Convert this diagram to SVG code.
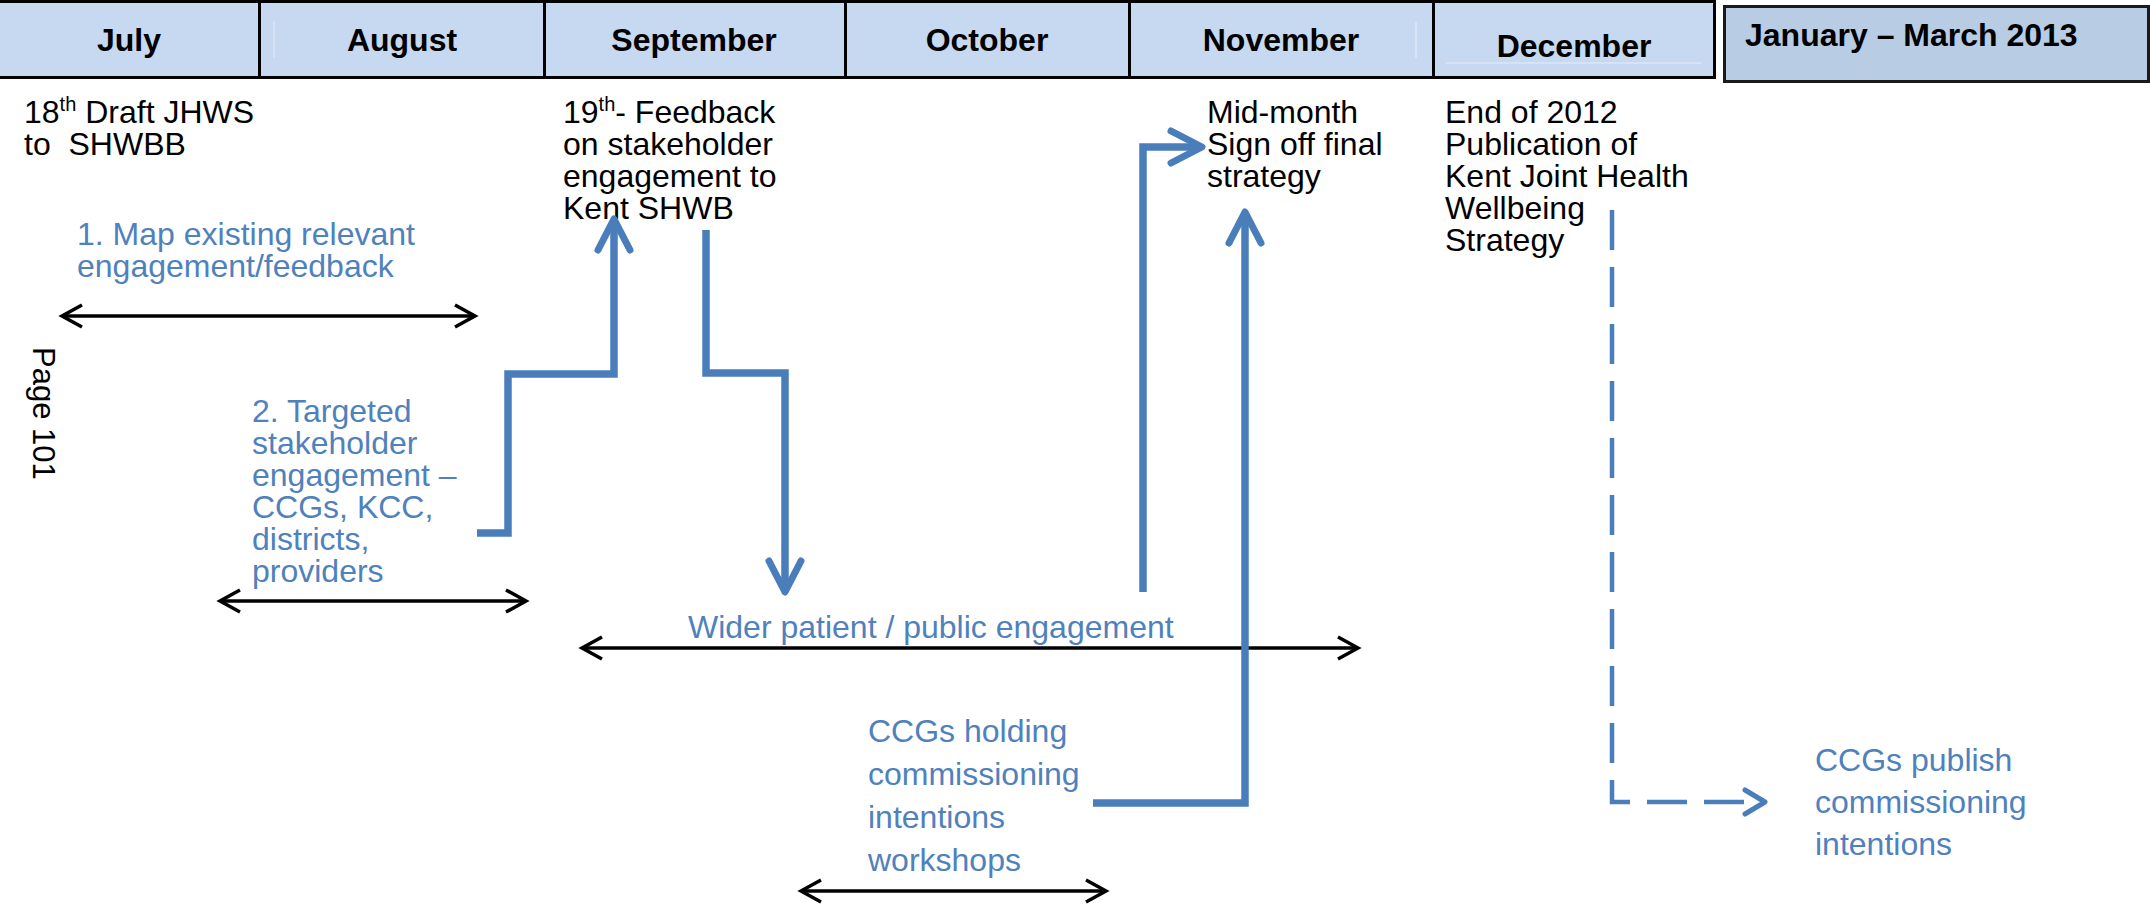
<svg xmlns="http://www.w3.org/2000/svg" width="2150" height="907" viewBox="0 0 2150 907">
  <style>
    .hdr { font-family: "Liberation Sans", Arial, sans-serif; font-weight: bold; font-size: 32px; fill: #000; }
    .txt { font-family: "Liberation Sans", Arial, sans-serif; font-size: 32px; fill: #000; }
    .blue { font-family: "Liberation Sans", Arial, sans-serif; font-size: 32px; fill: #4f81bd; }
    .grid { stroke: #000; stroke-width: 3; fill: none; }
    .faint { stroke: #dce6f4; stroke-width: 1.5; fill: none; }
    .span { stroke: #000; stroke-width: 3.5; fill: none; marker-start: url(#blk); marker-end: url(#blk); }
    .flow { stroke: #4a7ebb; stroke-width: 7.5; fill: none; stroke-linejoin: miter; marker-end: url(#bl); }
    .dash { stroke: #4a7ebb; stroke-width: 4.5; fill: none; stroke-dasharray: 40 17; marker-end: url(#bld); }
  </style>
  <defs>
    <marker id="blk" markerUnits="userSpaceOnUse" viewBox="-30 -20 40 40" markerWidth="40" markerHeight="40" refX="0" refY="0" orient="auto-start-reverse" overflow="visible">
      <path d="M-20,-11 L0,0 L-20,11" fill="none" stroke="#000" stroke-width="3.5" stroke-linecap="butt" stroke-linejoin="miter"/>
    </marker>
    <marker id="bl" markerUnits="userSpaceOnUse" viewBox="-40 -25 50 50" markerWidth="50" markerHeight="50" refX="0" refY="0" orient="auto" overflow="visible">
      <path d="M-31,-16 L0,0 L-31,16" fill="none" stroke="#4a7ebb" stroke-width="7" stroke-linecap="round" stroke-linejoin="round"/>
    </marker>
    <marker id="bld" markerUnits="userSpaceOnUse" viewBox="-30 -20 40 40" markerWidth="40" markerHeight="40" refX="0" refY="0" orient="auto" overflow="visible">
      <path d="M-20,-12 L0,0 L-20,12" fill="none" stroke="#4a7ebb" stroke-width="5" stroke-dasharray="none" stroke-linecap="round" stroke-linejoin="round"/>
    </marker>
  </defs>

  <rect width="2150" height="907" fill="#fff"/>

  <g id="header">
    <rect x="0" y="0" width="1714" height="78" fill="#c6d9f1"/>
    <line class="faint" x1="274" y1="21" x2="274" y2="58"/>
    <line class="faint" x1="1416" y1="22" x2="1416" y2="58"/>
    <line class="faint" x1="1446" y1="63" x2="1701" y2="63"/>
    <line class="grid" x1="0" y1="1.5" x2="1716" y2="1.5"/>
    <line class="grid" x1="0" y1="77.5" x2="1716" y2="77.5"/>
    <line class="grid" x1="259.5" y1="0" x2="259.5" y2="78"/>
    <line class="grid" x1="544.5" y1="0" x2="544.5" y2="78"/>
    <line class="grid" x1="845.5" y1="0" x2="845.5" y2="78"/>
    <line class="grid" x1="1129.5" y1="0" x2="1129.5" y2="78"/>
    <line class="grid" x1="1433.5" y1="0" x2="1433.5" y2="78"/>
    <line class="grid" x1="1714.5" y1="0" x2="1714.5" y2="79"/>
    <text class="hdr" x="129" y="51" text-anchor="middle">July</text>
    <text class="hdr" x="402" y="51" text-anchor="middle">August</text>
    <text class="hdr" x="694" y="51" text-anchor="middle">September</text>
    <text class="hdr" x="987" y="51" text-anchor="middle">October</text>
    <text class="hdr" x="1281" y="51" text-anchor="middle">November</text>
    <text class="hdr" x="1574" y="57" text-anchor="middle">December</text>
  </g>

  <g id="jan-mar">
    <rect x="1724.5" y="6.5" width="424" height="75" fill="#b8cce4" stroke="#1a1a1a" stroke-width="3"/>
    <text class="hdr" x="1745" y="46">January – March 2013</text>
  </g>

  <g id="page-number">
    <text class="txt" font-size="31" transform="translate(33,347) rotate(90)" style="font-size:31px">Page 101</text>
  </g>

  <g id="draft-jhws">
    <text class="txt" x="24" y="123">18<tspan font-size="20" style="font-size:20px" dy="-12">th</tspan><tspan dy="12"> Draft JHWS</tspan></text>
    <text class="txt" x="24" y="155">to&#160; SHWBB</text>
  </g>

  <g id="feedback">
    <text class="txt" x="563" y="123">19<tspan style="font-size:20px" dy="-12">th</tspan><tspan dy="12">- Feedback</tspan></text>
    <text class="txt" x="563" y="155">on stakeholder</text>
    <text class="txt" x="563" y="187">engagement to</text>
    <text class="txt" x="563" y="219">Kent SHWB</text>
  </g>

  <g id="sign-off">
    <text class="txt" x="1207" y="123">Mid-month</text>
    <text class="txt" x="1207" y="155">Sign off final</text>
    <text class="txt" x="1207" y="187">strategy</text>
  </g>

  <g id="publication">
    <text class="txt" x="1445" y="123">End of 2012</text>
    <text class="txt" x="1445" y="155">Publication of</text>
    <text class="txt" x="1445" y="187">Kent Joint Health</text>
    <text class="txt" x="1445" y="219">Wellbeing</text>
    <text class="txt" x="1445" y="251">Strategy</text>
  </g>

  <g id="map-existing">
    <text class="blue" x="77" y="245">1. Map existing relevant</text>
    <text class="blue" x="77" y="277">engagement/feedback</text>
  </g>

  <g id="targeted">
    <text class="blue" x="252" y="422">2. Targeted</text>
    <text class="blue" x="252" y="454">stakeholder</text>
    <text class="blue" x="252" y="486">engagement –</text>
    <text class="blue" x="252" y="518">CCGs, KCC,</text>
    <text class="blue" x="252" y="550">districts,</text>
    <text class="blue" x="252" y="582">providers</text>
  </g>

  <g id="wider">
    <text class="blue" x="688" y="638">Wider patient / public engagement</text>
  </g>

  <g id="ccg-workshops">
    <text class="blue" x="868" y="742">CCGs holding</text>
    <text class="blue" x="868" y="785">commissioning</text>
    <text class="blue" x="868" y="828">intentions</text>
    <text class="blue" x="868" y="871">workshops</text>
  </g>

  <g id="ccg-publish">
    <text class="blue" x="1815" y="771">CCGs publish</text>
    <text class="blue" x="1815" y="813">commissioning</text>
    <text class="blue" x="1815" y="855">intentions</text>
  </g>

  <g id="connectors">
    <line class="span" x1="62" y1="316" x2="475" y2="316"/>
    <line class="span" x1="220" y1="601" x2="526" y2="601"/>
    <line class="span" x1="582" y1="648" x2="1358" y2="648"/>
    <line class="span" x1="801" y1="891" x2="1106" y2="891"/>
    <polyline class="flow" points="477,533 508,533 508,374 614,374 614,219"/>
    <polyline class="flow" points="706,230 706,373 785,373 785,592"/>
    <polyline class="flow" points="1143,592 1143,147 1202,147"/>
    <polyline class="flow" points="1093,803 1245,803 1245,212"/>
    <polyline class="dash" points="1612,210 1612,802 1765,802"/>
  </g>
</svg>
